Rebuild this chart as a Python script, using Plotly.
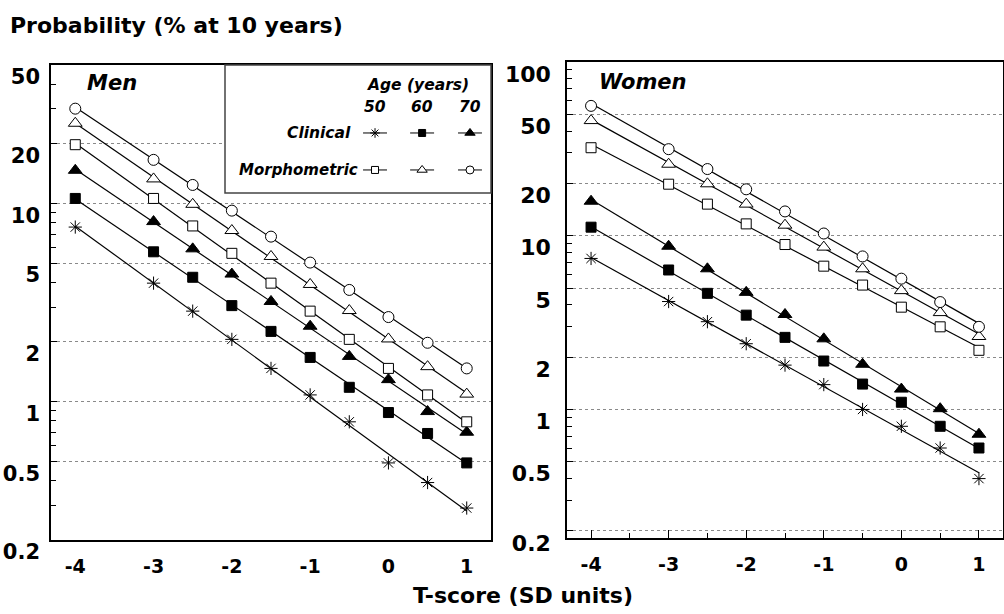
import numpy as np
import plotly.graph_objects as go

# ---------------- data ----------------
t_score = [-4, -3, -2.5, -2, -1.5, -1, -0.5, 0, 0.5, 1]

men_clinical_50 = [7.6, 3.96, 2.86, 2.06, 1.47, 1.08, 0.79, 0.49, 0.39, 0.29]
men_clinical_60 = [10.6, 5.7, 4.24, 3.05, 2.26, 1.67, 1.18, 0.88, 0.69, 0.49]
men_clinical_70 = [14.7, 8.1, 5.9, 4.4, 3.2, 2.40, 1.69, 1.29, 0.89, 0.70]
men_morpho_50 = [19.8, 10.6, 7.7, 5.6, 3.96, 2.86, 2.06, 1.47, 1.08, 0.79]
men_morpho_60 = [25.4, 13.3, 9.9, 7.3, 5.4, 3.9, 2.88, 2.07, 1.50, 1.09]
men_morpho_70 = [30.1, 16.6, 12.4, 9.2, 6.8, 5.03, 3.66, 2.67, 1.98, 1.47]

women_clinical_50 = [7.4, 4.18, 3.2, 2.39, 1.80, 1.39, 1.00, 0.80, 0.60, 0.40]
women_clinical_60 = [11.2, 6.35, 4.66, 3.49, 2.6, 1.9, 1.40, 1.10, 0.80, 0.60]
women_clinical_70 = [15.8, 8.7, 6.45, 4.72, 3.52, 2.55, 1.82, 1.31, 1.01, 0.72]
women_morpho_50 = [32.1, 19.8, 15.2, 11.7, 8.9, 6.68, 5.2, 3.88, 2.99, 2.19]
women_morpho_60 = [46, 25.8, 19.9, 15.2, 11.5, 8.6, 6.45, 4.83, 3.61, 2.63]
women_morpho_70 = [55.9, 31.5, 24.2, 18.5, 13.8, 10.3, 7.6, 5.66, 4.15, 2.99]

x_tick_vals = [-4, -3, -2, -1, 0, 1]
x_tick_text = ["-4", "-3", "-2", "-1", "0", "1"]
men_y_ticks = [0.2, 0.5, 1, 2, 5, 10, 20, 50]
women_y_ticks = [0.2, 0.5, 1, 2, 5, 10, 20, 50, 100]
ages = ["50", "60", "70"]
groups = ["Clinical", "Morphometric"]

# ---------------- styles ----------------
W, H = 1004, 614
FONT = "DejaVu Sans"

sym_style = {
    ("Clinical", "50"): dict(symbol="asterisk-open", size=11, color="black", line=dict(color="black", width=1)),
    ("Clinical", "60"): dict(symbol="square", size=10, color="black", line=dict(color="black", width=1)),
    ("Clinical", "70"): dict(symbol="triangle-up", size=12, color="black", line=dict(color="black", width=1)),
    ("Morphometric", "50"): dict(symbol="square", size=10, color="white", line=dict(color="black", width=1)),
    ("Morphometric", "60"): dict(symbol="triangle-up", size=12, color="white", line=dict(color="black", width=1)),
    ("Morphometric", "70"): dict(symbol="circle", size=11, color="white", line=dict(color="black", width=1)),
}

panels = {
    "men": {
        ("Clinical", "50"): men_clinical_50, ("Clinical", "60"): men_clinical_60,
        ("Clinical", "70"): men_clinical_70, ("Morphometric", "50"): men_morpho_50,
        ("Morphometric", "60"): men_morpho_60, ("Morphometric", "70"): men_morpho_70,
    },
    "women": {
        ("Clinical", "50"): women_clinical_50, ("Clinical", "60"): women_clinical_60,
        ("Clinical", "70"): women_clinical_70, ("Morphometric", "50"): women_morpho_50,
        ("Morphometric", "60"): women_morpho_60, ("Morphometric", "70"): women_morpho_70,
    },
}
axes_of = {"men": ("x", "y"), "women": ("x2", "y2")}

fig = go.Figure()

xs = np.array(t_score, dtype=float)
for panel, series in panels.items():
    xa, ya = axes_of[panel]
    # fitted (log-linear) lines
    for key, vals in series.items():
        slope, icpt = np.polyfit(xs, np.log10(vals), 1)
        xe = np.array([xs.min(), xs.max()])
        fig.add_trace(go.Scatter(x=xe, y=10 ** (icpt + slope * xe), mode="lines",
                                 line=dict(color="black", width=1.2),
                                 xaxis=xa, yaxis=ya, showlegend=False, hoverinfo="skip"))
    for key, vals in series.items():
        fig.add_trace(go.Scatter(x=t_score, y=vals, mode="markers", marker=sym_style[key],
                                 xaxis=xa, yaxis=ya, showlegend=False,
                                 name=f"{key[0]} {key[1]}"))

# legend samples on an overlay axis (0..1 inside the legend box)
leg_x = [0.564, 0.741, 0.921]
leg_row_y = {"Clinical": 0.469, "Morphometric": 0.18}
half = 0.045
for g in groups:
    for i, a in enumerate(ages):
        cx, cy = leg_x[i], leg_row_y[g]
        fig.add_trace(go.Scatter(x=[cx - half, cx + half], y=[cy, cy], mode="lines",
                                 line=dict(color="black", width=1), xaxis="x3", yaxis="y3",
                                 showlegend=False, hoverinfo="skip"))
        st = dict(sym_style[(g, a)])
        st["size"] = st["size"] - 3
        fig.add_trace(go.Scatter(x=[cx], y=[cy], mode="markers", marker=st,
                                 xaxis="x3", yaxis="y3", showlegend=False, hoverinfo="skip"))

# ---------------- layout ----------------
def px_x(p):
    return p / W

def px_y(p):
    return 1 - p / H

men_dom_x = [px_x(51), px_x(491)]
men_dom_y = [px_y(540), px_y(65)]
wom_dom_x = [px_x(567), px_x(1003)]
wom_dom_y = [px_y(538), px_y(62)]
leg_dom_x = [px_x(225), px_x(491)]
leg_dom_y = [px_y(193), px_y(65)]

def minor_vals(lo_exp, hi_exp):
    return [m * 10 ** e for e in range(lo_exp, hi_exp + 1) for m in range(2, 10)]

tickfont_x = dict(family=FONT, size=19, color="black", weight="bold")

def yaxis_common(ticks, rng, dom, standoff, fsize):
    return dict(type="log", range=rng, domain=dom, tickmode="array", tickvals=ticks,
                ticktext=[f"{v:g}" for v in ticks], ticks="inside", ticklen=6, tickwidth=1,
                tickcolor="black", showgrid=True, gridcolor="#8a8a8a", griddash="dot",
                gridwidth=1, showline=True, linecolor="black", linewidth=1.5, mirror=True,
                tickfont=dict(family=FONT, size=fsize, color="black", weight="bold"),
                ticklabelshift=12, ticklabelstandoff=standoff, zeroline=False,
                automargin=False,
                minor=dict(tickmode="array", tickvals=minor_vals(-1, 1), ticks="inside",
                           ticklen=5, tickcolor="black", tickwidth=1, showgrid=False))

fig.update_layout(
    width=W, height=H,
    margin=dict(l=0, r=0, t=0, b=0, pad=0, autoexpand=False),
    paper_bgcolor="white", plot_bgcolor="white",
    showlegend=False,
    xaxis=dict(domain=men_dom_x, anchor="y", range=[-4.31, 1.31], tickmode="array",
               tickvals=x_tick_vals, ticktext=x_tick_text, ticks="", showgrid=False,
               zeroline=False, showline=True, linecolor="black", linewidth=1.5, mirror=True,
               tickfont=tickfont_x, ticklabelstandoff=8, automargin=False),
    yaxis=yaxis_common(men_y_ticks, [np.log10(0.2), np.log10(50)], men_dom_y, 5, 21),
    xaxis2=dict(domain=wom_dom_x, anchor="y2", range=[-4.31, 1.31], tickmode="array",
                tickvals=x_tick_vals, ticktext=x_tick_text, ticks="inside", ticklen=8,
                tickcolor="black", showgrid=False, zeroline=False, showline=True,
                linecolor="black", linewidth=1.5, mirror=True, tickfont=tickfont_x,
                ticklabelstandoff=8, automargin=False,
                minor=dict(tickmode="linear", tick0=0, dtick=0.5, ticks="inside",
                           ticklen=5, tickcolor="black", showgrid=False)),
    yaxis2=dict(yaxis_common(women_y_ticks, [np.log10(0.182), 2], wom_dom_y, 10, 22),
                anchor="x2"),
    xaxis3=dict(domain=leg_dom_x, anchor="y3", range=[0, 1], visible=False, fixedrange=True,
                automargin=False),
    yaxis3=dict(domain=leg_dom_y, anchor="x3", range=[0, 1], visible=False, fixedrange=True,
                automargin=False),
)

# legend box
fig.add_shape(type="rect", xref="paper", yref="paper",
              x0=leg_dom_x[0], x1=leg_dom_x[1], y0=leg_dom_y[0], y1=leg_dom_y[1],
              line=dict(color="#444444", width=1.5), fillcolor="rgba(0,0,0,0)", layer="above")

def ann(text, x, y, xref="paper", yref="paper", size=22, xanchor="center", italic=False):
    fig.add_annotation(text=text, x=x, y=y, xref=xref, yref=yref, showarrow=False,
                       xanchor=xanchor, yanchor="middle",
                       font=dict(family=FONT, size=size, color="black", weight="bold",
                                 style="italic" if italic else "normal"))

ann("Probability (% at 10 years)", px_x(8), px_y(25), size=22, xanchor="left")
ann("T-score (SD units)", px_x(523), px_y(595), size=22)
ann("Men", px_x(112), px_y(83), size=21, italic=True)
ann("Women", px_x(643), px_y(82), size=21, italic=True)

# legend texts
ann("Age (years)", 0.726, 0.844, xref="x3", yref="y3", size=15.5, italic=True)
for i, a in enumerate(ages):
    ann(a, leg_x[i], 0.672, xref="x3", yref="y3", size=15.5, italic=True)
ann("Clinical", 0.481, leg_row_y["Clinical"], xref="x3", yref="y3", size=15.5,
    xanchor="right", italic=True)
ann("Morphometric", 0.508, leg_row_y["Morphometric"], xref="x3", yref="y3", size=15,
    xanchor="right", italic=True)

fig.write_html("out.html", config={"displayModeBar": False},
               post_script="document.body.style.margin='0';document.body.style.overflow='hidden';")
